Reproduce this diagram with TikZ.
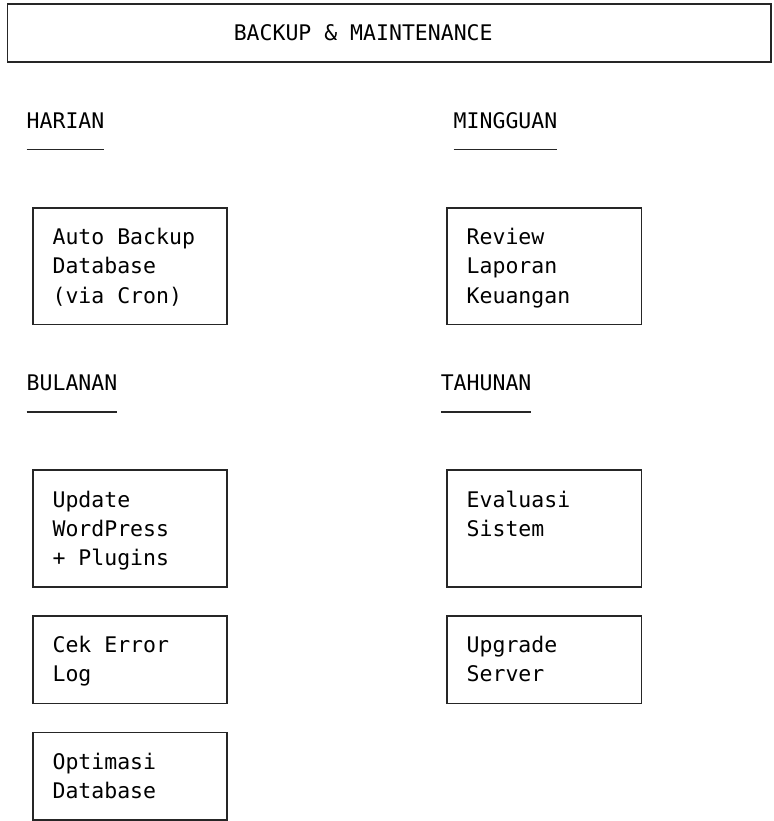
\documentclass[tikz,border=0pt]{standalone}
\usepackage{fontspec}
\newfontfamily\mono{DejaVu Sans Mono}
\usetikzlibrary{calc}
\tikzset{
  frame/.style={draw=black!85, line width=1.6pt, inner sep=0pt, outer sep=0pt,
    anchor=north west, minimum width=194.1pt},
  rows4/.style={minimum height=116.56pt},
  rows3/.style={minimum height=87.42pt},
  txt/.style={anchor=base west, inner sep=0pt, outer sep=0pt, text=black,
    font=\mono\fontsize{21.5pt}{29pt}\selectfont},
  uline/.style={draw=black!85, line width=1.4pt},
}
\newcommand{\bl}{0.264}
\begin{document}
\begin{tikzpicture}
\useasboundingbox (0pt,0pt) rectangle (773pt,-821pt);
\begin{scope}[shift={(7.3pt,-4pt)}, x=12.94pt, y=-29.14pt]
  % title box
  \node[frame, minimum width=763.5pt, minimum height=58.28pt] (top) at (0,0) {};
  \node[txt] (title) at (17.5,1+\bl) {BACKUP \& MAINTENANCE};

  % headings
  \node[txt] (hHarian) at (1.5,4+\bl) {HARIAN};
  \node[txt] (hMinggu) at (34.5,4+\bl) {MINGGUAN};
  \node[txt] (hBulan) at (1.5,13+\bl) {BULANAN};
  \node[txt] (hTahun) at (33.5,13+\bl) {TAHUNAN};
  \foreach \h in {hHarian,hMinggu,hBulan,hTahun}{
    \draw[uline] ($(\h.base west)+(0,0.736)$) -- ($(\h.base east)+(0,0.736)$);
  }

  % boxes
  \node[frame, rows4] (bBackup) at (2,7) {};
  \node[frame, rows4] (bReview) at (34,7) {};
  \node[frame, rows4] (bUpdate) at (2,16) {};
  \node[frame, rows4] (bEval) at (34,16) {};
  \node[frame, rows3] (bCek) at (2,21) {};
  \node[frame, rows3] (bUpgrade) at (34,21) {};
  \node[frame, rows3] (bOptim) at (2,25) {};

  % box texts
  \node[txt] (t1a) at (3.5,8+\bl) {Auto Backup};
  \node[txt] (t1b) at (3.5,9+\bl) {Database};
  \node[txt] (t1c) at (3.5,10+\bl) {(via Cron)};
  \node[txt] (t2a) at (35.5,8+\bl) {Review};
  \node[txt] (t2b) at (35.5,9+\bl) {Laporan};
  \node[txt] (t2c) at (35.5,10+\bl) {Keuangan};
  \node[txt] (t3a) at (3.5,17+\bl) {Update};
  \node[txt] (t3b) at (3.5,18+\bl) {WordPress};
  \node[txt] (t3c) at (3.5,19+\bl) {+ Plugins};
  \node[txt] (t4a) at (35.5,17+\bl) {Evaluasi};
  \node[txt] (t4b) at (35.5,18+\bl) {Sistem};
  \node[txt] (t5a) at (3.5,22+\bl) {Cek Error};
  \node[txt] (t5b) at (3.5,23+\bl) {Log};
  \node[txt] (t6a) at (35.5,22+\bl) {Upgrade};
  \node[txt] (t6b) at (35.5,23+\bl) {Server};
  \node[txt] (t7a) at (3.5,26+\bl) {Optimasi};
  \node[txt] (t7b) at (3.5,27+\bl) {Database};
\end{scope}
\end{tikzpicture}
\end{document}
